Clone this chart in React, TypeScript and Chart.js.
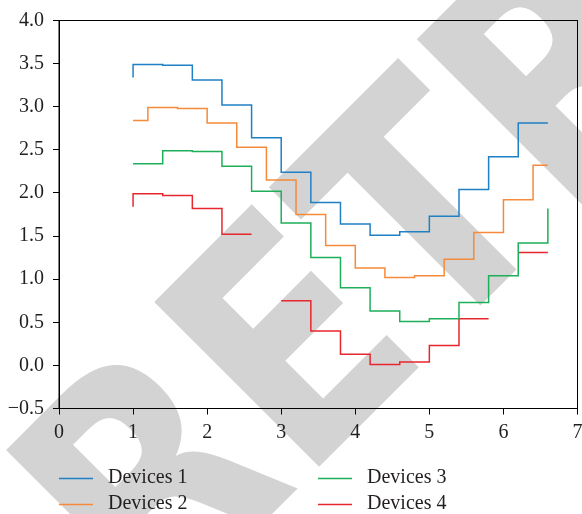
import React, { useEffect, useRef } from 'react';
import { Chart, registerables } from 'chart.js';

Chart.register(...registerables);

// ---------- data ----------
const X_POSITIONS = [1.0, 1.4, 1.8, 2.2, 2.6, 3.0, 3.4, 3.8, 4.2, 4.6, 5.0, 5.4, 5.8, 6.2, 6.6];
const SERIES_LABELS = ['Devices 1', 'Devices 2', 'Devices 3', 'Devices 4'];
const DEVICES_1 = [3.34, 3.49, 3.48, 3.31, 3.02, 2.64, 2.24, 1.89, 1.64, 1.51, 1.55, 1.73, 2.04, 2.42, 2.81];
const DEVICES_2 = [2.84, 2.99, 2.98, 2.81, 2.53, 2.15, 1.75, 1.39, 1.13, 1.02, 1.04, 1.23, 1.54, 1.92, 2.32];
const DEVICES_3 = [2.34, 2.49, 2.48, 2.31, 2.02, 1.65, 1.25, 0.90, 0.63, 0.51, 0.54, 0.73, 1.04, 1.42, 1.82];
const DEVICES_4 = [1.84, 1.99, 1.97, 1.82, 1.52, null, 0.75, 0.40, 0.13, 0.01, 0.04, 0.23, 0.54, null, 1.31];
const STEP_MODES = ['pre', 'mid', 'post', 'pre'];
const X_MIN = 0, X_MAX = 7, X_STEP = 1;
const Y_MIN = -0.5, Y_MAX = 4.0, Y_STEP = 0.5;

// ---------- styles ----------
const COLORS = ['#1f80c4', '#f58a3a', '#1fae5a', '#e8262d'];
const FONT = '"Liberation Serif", "Times New Roman", serif';
const TEXT_COLOR = '#231f20';
const CHARTJS_STEP: Record<string, any> = { pre: 'after', mid: 'middle', post: 'before' };

function toPoints(ys: (number | null)[], mode: string) {
  const pts: { x: number; y: number | null }[] = [];
  ys.forEach((y, i) => {
    // matplotlib 'pre' semantics: the interval (x[i-1], x[i]] carries y[i]
    if (mode === 'pre' && i > 0 && ys[i - 1] === null && y !== null) {
      pts.push({ x: X_POSITIONS[i - 1], y });
    }
    pts.push({ x: X_POSITIONS[i], y });
  });
  return pts;
}

const watermarkPlugin = {
  id: 'watermark',
  beforeDraw(chart: any) {
    const ctx = chart.ctx;
    ctx.save();
    ctx.fillStyle = '#d3d3d3';
    ctx.font = 'bold 320px "DejaVu Sans"';
    ctx.textBaseline = 'alphabetic';
    ctx.translate(316.5, 469.5);
    ctx.rotate(-Math.PI / 4);
    ctx.scale(0.85, 1);
    const rAdv = ctx.measureText('R').width;
    const eBox = ctx.measureText('E');
    const eOrigin = eBox.actualBoundingBoxLeft;
    ctx.fillText('RETRACTED', eOrigin - rAdv, 0);
    ctx.restore();
  },
};

const framePlugin = {
  id: 'frame',
  afterDraw(chart: any) {
    const { ctx, chartArea } = chart;
    ctx.save();
    ctx.strokeStyle = '#000';
    ctx.lineWidth = 1;
    ctx.strokeRect(chartArea.left, chartArea.top, chartArea.right - chartArea.left, chartArea.bottom - chartArea.top);
    ctx.restore();
  },
};

const legendPlugin = {
  id: 'gridLegend',
  afterDraw(chart: any) {
    const ctx = chart.ctx;
    const colX = [59, 318];
    const rowY = [478, 504];
    ctx.save();
    ctx.font = `20px ${FONT}`;
    ctx.textBaseline = 'middle';
    ctx.textAlign = 'left';
    chart.data.datasets.forEach((ds: any, i: number) => {
      const col = Math.floor(i / 2);
      const row = i % 2;
      const x = colX[col];
      const y = rowY[row];
      ctx.strokeStyle = ds.borderColor;
      ctx.lineWidth = 1.5;
      ctx.beginPath();
      ctx.moveTo(x, y + 0.5);
      ctx.lineTo(x + 34, y + 0.5);
      ctx.stroke();
      ctx.fillStyle = TEXT_COLOR;
      ctx.fillText(ds.label, x + 49, y);
    });
    ctx.restore();
  },
};

export default function App() {
  const canvasRef = useRef<HTMLCanvasElement | null>(null);

  useEffect(() => {
    const canvas = canvasRef.current;
    if (!canvas) return;
    const seriesValues = [DEVICES_1, DEVICES_2, DEVICES_3, DEVICES_4];
    const chart = new Chart(canvas, {
      type: 'line',
      data: {
        datasets: seriesValues.map((vals, i) => ({
          label: SERIES_LABELS[i],
          data: toPoints(vals, STEP_MODES[i]),
          borderColor: COLORS[i],
          backgroundColor: COLORS[i],
          borderWidth: 1.5,
          pointRadius: 0,
          pointHoverRadius: 0,
          fill: false,
          spanGaps: false,
          stepped: CHARTJS_STEP[STEP_MODES[i]],
        })),
      },
      options: {
        animation: false,
        responsive: false,
        devicePixelRatio: 1,
        events: [],
        layout: { padding: { left: 0, top: 20.5, right: 4.5, bottom: 514 - 408.5 - 40 } },
        plugins: {
          legend: { display: false },
          tooltip: { enabled: false },
          title: { display: false },
        },
        scales: {
          x: {
            type: 'linear',
            min: X_MIN,
            max: X_MAX,
            afterFit: (scale: any) => {
              scale.height = 40;
              scale.paddingLeft = 0;
              scale.paddingRight = 0;
            },
            ticks: {
              stepSize: X_STEP,
              color: TEXT_COLOR,
              font: { family: FONT, size: 20 },
              padding: 6,
              maxRotation: 0,
              autoSkip: false,
              callback: (v: any) => String(v),
            },
            grid: { drawOnChartArea: false, drawTicks: true, tickLength: 6, tickColor: '#000', tickWidth: 1 },
            border: { display: true, color: '#000', width: 1 },
          },
          y: {
            type: 'linear',
            min: Y_MIN,
            max: Y_MAX,
            afterFit: (scale: any) => {
              scale.width = 59;
              scale.paddingTop = 0;
              scale.paddingBottom = 0;
            },
            ticks: {
              stepSize: Y_STEP,
              color: TEXT_COLOR,
              font: { family: FONT, size: 20 },
              padding: 9,
              autoSkip: false,
              callback: (v: any) => Number(v).toFixed(1).replace('-', '\u2212'),
            },
            grid: { drawOnChartArea: false, drawTicks: true, tickLength: 6, tickColor: '#000', tickWidth: 1 },
            border: { display: true, color: '#000', width: 1 },
          },
        },
      },
      plugins: [watermarkPlugin, framePlugin, legendPlugin],
    });
    return () => chart.destroy();
  }, []);

  return (
    <div style={{ position: 'fixed', left: 0, top: 0, width: 582, height: 514, background: '#fff' }}>
      <canvas ref={canvasRef} width={582} height={514} style={{ display: 'block' }} />
    </div>
  );
}
